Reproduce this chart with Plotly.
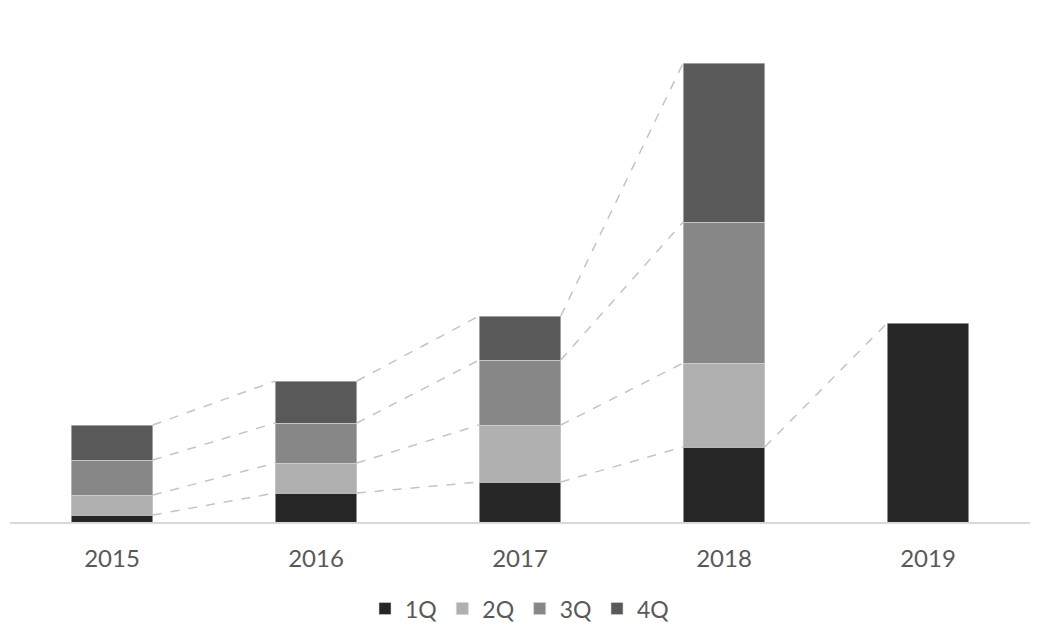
import plotly.graph_objects as go

years = ["2015", "2016", "2017", "2018", "2019"]
q1 = [7, 29, 40, 75, 199]
q2 = [20, 30, 57, 84, None]
q3 = [35, 40, 65, 141, None]
q4 = [35, 42, 44, 159, None]

series = [("1Q", q1, "#262626"), ("2Q", q2, "#b0b0b0"),
          ("3Q", q3, "#878787"), ("4Q", q4, "#595959")]

BAR_W = 0.40
xs = list(range(len(years)))

fig = go.Figure()

# series lines (connect segment tops between adjacent bars)
cum = [0.0] * len(years)
for name, vals, color in series:
    tops = []
    for i, v in enumerate(vals):
        if v is None:
            tops.append(None)
        else:
            cum[i] += v
            tops.append(cum[i])
    lx, ly = [], []
    for i in range(len(years) - 1):
        if tops[i] is not None and tops[i + 1] is not None:
            lx += [xs[i] + BAR_W / 2, xs[i + 1] - BAR_W / 2, None]
            ly += [tops[i], tops[i + 1], None]
    fig.add_trace(go.Scatter(x=lx, y=ly, mode="lines", showlegend=False,
                             hoverinfo="skip",
                             line=dict(color="#c4c4c4", width=1.5, dash="dash")))

for name, vals, color in series:
    fig.add_trace(go.Bar(x=xs, y=vals, name=name, width=BAR_W,
                         marker=dict(color=color, line=dict(color="#d0d0d0", width=0.6))))

fig.update_layout(
    barmode="stack",
    width=1040, height=642,
    margin=dict(l=2, r=18, t=32, b=128),
    plot_bgcolor="white", paper_bgcolor="white",
    font=dict(family="Lato, 'Open Sans', sans-serif", color="#595959"),
    xaxis=dict(range=[-0.5, 4.5], tickvals=xs, ticktext=years,
               showgrid=False, zeroline=False, showline=True,
               linecolor="#d9d9d9", linewidth=1.5, ticks="",
               ticklabelstandoff=14, tickfont=dict(size=24, color="#595959")),
    yaxis=dict(range=[0, 482], visible=False, showgrid=False, zeroline=False),
    legend=dict(orientation="h", x=0.5, xanchor="center", y=-0.135, yanchor="top",
                font=dict(size=23, color="#595959"), traceorder="normal",
                itemwidth=30),
    showlegend=True,
)

fig.write_html("out.html")
